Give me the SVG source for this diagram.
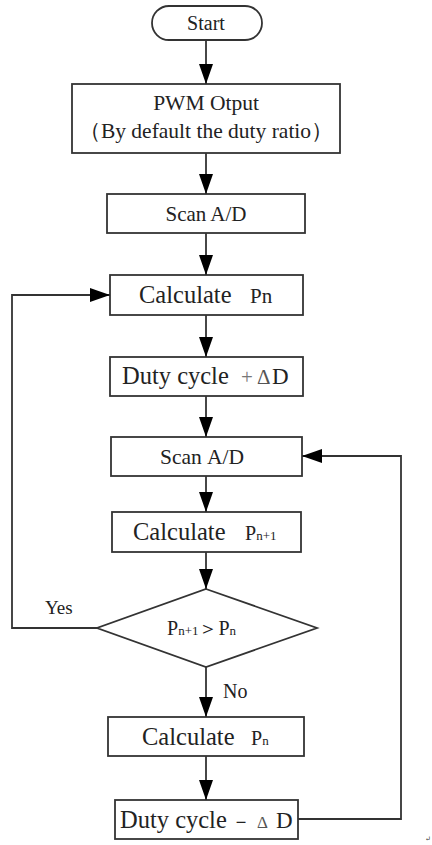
<svg xmlns="http://www.w3.org/2000/svg" width="432" height="845" viewBox="0 0 432 845">
<style>
.box{fill:#fff;stroke:#333;stroke-width:1.8}
text{font-family:'Liberation Serif','Tinos','Times New Roman','DejaVu Serif',serif;fill:#222}
.c{text-anchor:middle}
.ln{fill:none;stroke:#333;stroke-width:1.8}
</style>
<defs>
<marker id="ah" markerWidth="20" markerHeight="14" refX="20" refY="7" orient="auto" markerUnits="userSpaceOnUse">
<path d="M0,0 L20,7 L0,14 Z" fill="#000"/>
</marker>
</defs>
<rect width="432" height="845" fill="#fff"/>

<g id="start">
<rect class="box" x="152" y="6" width="110" height="34" rx="17" ry="17"/>
<text class="c" x="206" y="30" font-size="20">Start</text>
</g>
<g id="pwm">
<rect class="box" x="72" y="84" width="268" height="69"/>
<text class="c" x="206" y="110" font-size="21.5">PWM Otput</text>
<text class="c" x="206" y="138" font-size="21.5">（By default the duty ratio）</text>
</g>
<g id="scan1">
<rect class="box" x="107" y="194" width="198" height="39"/>
<text class="c" x="206" y="221" font-size="21">Scan A/D</text>
</g>
<g id="calc1">
<rect class="box" x="110" y="275" width="193" height="40"/>
<text x="139" y="303" font-size="24.5">Calculate<tspan x="250" font-size="21">Pn</tspan></text>
</g>
<g id="dutyplus">
<rect class="box" x="110" y="357" width="193" height="39"/>
<text x="122" y="384" font-size="24.5">Duty cycle<tspan x="241" font-size="21" fill="#777">+</tspan><tspan x="257" font-size="21" fill="#555">Δ</tspan><tspan x="272" font-size="23">D</tspan></text>
</g>
<g id="scan2">
<rect class="box" x="111" y="437" width="191" height="39"/>
<text x="160" y="464" font-size="21.5">Scan<tspan x="207">A/D</tspan></text>
</g>
<g id="calc2">
<rect class="box" x="112" y="512" width="189" height="40"/>
<text x="133" y="540" font-size="24.5">Calculate<tspan x="245" font-size="20">P</tspan><tspan font-size="13">n+1</tspan></text>
</g>
<g id="decision">
<polygon class="box" points="206,589 317,628 206,667 97,628"/>
<text x="167" y="635" font-size="20">P<tspan font-size="13">n+1</tspan><tspan font-size="20">＞P</tspan><tspan font-size="13">n</tspan></text>
</g>
<g id="calc3">
<rect class="box" x="108" y="717" width="196" height="39"/>
<text x="142" y="745" font-size="24.5">Calculate<tspan x="251" font-size="20">P</tspan><tspan font-size="13">n</tspan></text>
</g>
<g id="dutyminus">
<rect class="box" x="115" y="800" width="183" height="39"/>
<text x="120" y="828" font-size="24.5">Duty cycle<tspan x="231" font-size="20">－</tspan><tspan x="257" font-size="17" fill="#555">Δ</tspan><tspan x="276" font-size="23">D</tspan></text>
</g>

<g id="connectors">
<line class="ln" x1="206" y1="40" x2="206" y2="84" marker-end="url(#ah)"/>
<line class="ln" x1="206" y1="153" x2="206" y2="194" marker-end="url(#ah)"/>
<line class="ln" x1="206" y1="233" x2="206" y2="275" marker-end="url(#ah)"/>
<line class="ln" x1="206" y1="315" x2="206" y2="357" marker-end="url(#ah)"/>
<line class="ln" x1="206" y1="396" x2="206" y2="437" marker-end="url(#ah)"/>
<line class="ln" x1="206" y1="476" x2="206" y2="512" marker-end="url(#ah)"/>
<line class="ln" x1="206" y1="552" x2="206" y2="589" marker-end="url(#ah)"/>
<line class="ln" x1="206" y1="667" x2="206" y2="717" marker-end="url(#ah)"/>
<line class="ln" x1="206" y1="756" x2="206" y2="800" marker-end="url(#ah)"/>
<polyline class="ln" points="97,628 12,628 12,295 110,295" marker-end="url(#ah)"/>
<polyline class="ln" points="298,819 401,819 401,456 302,456" marker-end="url(#ah)"/>
<text x="45" y="614" font-size="19">Yes</text>
<text x="223" y="698" font-size="20">No</text>
</g>
<text x="425" y="841" font-size="7" fill="#999">↵</text>
</svg>
